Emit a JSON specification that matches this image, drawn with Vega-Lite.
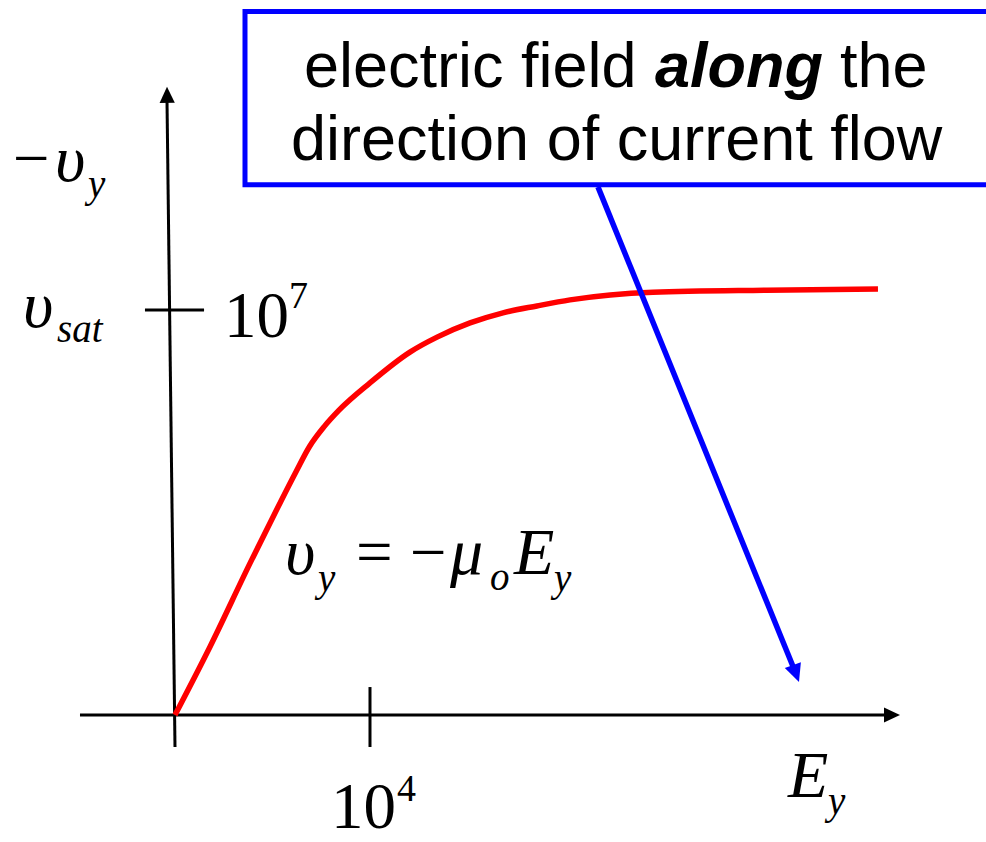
{
  "$schema": "https://vega.github.io/schema/vega-lite/v6.json",
  "width": 986,
  "height": 842,
  "autosize": {"type": "none"},
  "padding": 0,
  "background": "white",
  "config": {"view": {"stroke": null}},
  "datasets": {
    "curve": [
      {"E": 0, "v": 0},
      {"E": 0.179, "v": 0.168},
      {"E": 0.385, "v": 0.375},
      {"E": 0.538, "v": 0.523},
      {"E": 0.62, "v": 0.6},
      {"E": 0.69, "v": 0.663},
      {"E": 0.765, "v": 0.712},
      {"E": 0.84, "v": 0.752},
      {"E": 1.0, "v": 0.82},
      {"E": 1.205, "v": 0.896},
      {"E": 1.344, "v": 0.933},
      {"E": 1.513, "v": 0.968},
      {"E": 1.682, "v": 0.993},
      {"E": 1.856, "v": 1.01},
      {"E": 2.026, "v": 1.025},
      {"E": 2.451, "v": 1.044},
      {"E": 3.036, "v": 1.049},
      {"E": 3.605, "v": 1.052}
    ],
    "axisLines": [
      {"E": -0.4872, "v": 0, "E2": 3.6564, "v2": 0},
      {"E": 0, "v": -0.079, "E2": -0.041, "v2": 1.518}
    ],
    "ticks": [
      {"E": 1, "v": 0.069, "E2": 1, "v2": -0.079},
      {"E": -0.154, "v": 1, "E2": 0.149, "v2": 1}
    ],
    "box": [{"E": 0.359, "v": 1.737, "E2": 4.4, "v2": 1.309}],
    "pointer": [{"E": 2.169, "v": 1.304, "E2": 3.174, "v2": 0.114}],
    "mathItalic": [
      {"label": "υ", "E": -0.6154, "v": 1.3185},
      {"label": "υ", "E": -0.7795, "v": 0.958},
      {"label": "υ", "E": 0.5641, "v": 0.3481},
      {"label": "μ", "E": 1.4103, "v": 0.3481},
      {"label": "E", "E": 1.7385, "v": 0.3481},
      {"label": "E", "E": 3.1436, "v": -0.2025}
    ],
    "mathSub": [
      {"label": "y", "E": -0.4462, "v": 1.279},
      {"label": "sat", "E": -0.6051, "v": 0.921},
      {"label": "y", "E": 0.7333, "v": 0.3062},
      {"label": "o", "E": 1.6154, "v": 0.3086},
      {"label": "y", "E": 1.9436, "v": 0.3062},
      {"label": "y", "E": 3.3487, "v": -0.2444}
    ],
    "mathUpright": [
      {"label": "−", "E": -0.8308, "v": 1.321},
      {"label": "10", "E": 0.2513, "v": 0.9333},
      {"label": "10", "E": 0.8, "v": -0.279},
      {"label": "=", "E": 0.9282, "v": 0.3481},
      {"label": "−", "E": 1.2051, "v": 0.3481}
    ],
    "mathSup": [
      {"label": "7", "E": 0.5846, "v": 1.0049},
      {"label": "4", "E": 1.1385, "v": -0.2123}
    ],
    "boxText": [
      {"label": "electric field", "E": 0.6615, "v": 1.5506},
      {"label": "the", "E": 3.4103, "v": 1.5506},
      {"label": "direction of current flow", "E": 0.5949, "v": 1.3704}
    ],
    "boxEmphasis": [{"label": "along", "E": 2.4615, "v": 1.5506}],
    "hTip": [{"E": 3.7179, "v": 0}],
    "vTip": [{"E": -0.041, "v": 1.551}],
    "pointerTip": [{"E": 3.2, "v": 0.0815}]
  },
  "encoding": {
    "x": {"field": "E", "type": "quantitative", "scale": {"domain": [-0.8974, 4.159], "nice": false, "zero": false}, "axis": null},
    "y": {"field": "v", "type": "quantitative", "scale": {"domain": [-0.3136, 1.7654], "nice": false, "zero": false}, "axis": null}
  },
  "layer": [
    {
      "data": {"name": "axisLines"},
      "mark": {"type": "rule", "color": "black", "strokeWidth": 3},
      "encoding": {"x2": {"field": "E2"}, "y2": {"field": "v2"}}
    },
    {
      "data": {"name": "ticks"},
      "mark": {"type": "rule", "color": "black", "strokeWidth": 3},
      "encoding": {"x2": {"field": "E2"}, "y2": {"field": "v2"}}
    },
    {
      "data": {"name": "hTip"},
      "mark": {"type": "point", "shape": "M0,0L-0.95,2L0.95,2Z", "filled": true, "color": "black", "opacity": 1, "size": 256, "angle": 90}
    },
    {
      "data": {"name": "vTip"},
      "mark": {"type": "point", "shape": "M0,0L-0.95,2L0.95,2Z", "filled": true, "color": "black", "opacity": 1, "size": 256, "angle": 359.3}
    },
    {
      "data": {"name": "curve"},
      "mark": {"type": "line", "color": "#ff0000", "strokeWidth": 5.5, "interpolate": "monotone"},
      "encoding": {"order": {"field": "E", "type": "quantitative"}}
    },
    {
      "data": {"name": "box"},
      "mark": {"type": "rect", "fill": "white", "stroke": "#0000ff", "strokeWidth": 5, "clip": true},
      "encoding": {"x2": {"field": "E2"}, "y2": {"field": "v2"}}
    },
    {
      "data": {"name": "pointer"},
      "mark": {"type": "rule", "color": "#0000ff", "strokeWidth": 5.5},
      "encoding": {"x2": {"field": "E2"}, "y2": {"field": "v2"}}
    },
    {
      "data": {"name": "pointerTip"},
      "mark": {"type": "point", "shape": "M0,0L-0.95,2L0.95,2Z", "filled": true, "color": "#0000ff", "opacity": 1, "size": 324, "angle": 160}
    },
    {
      "data": {"name": "mathItalic"},
      "mark": {"type": "text", "font": "Liberation Serif", "fontStyle": "italic", "fontSize": 66, "align": "left", "baseline": "alphabetic", "color": "black"},
      "encoding": {"text": {"field": "label"}}
    },
    {
      "data": {"name": "mathSub"},
      "mark": {"type": "text", "font": "Liberation Serif", "fontStyle": "italic", "fontSize": 39, "align": "left", "baseline": "alphabetic", "color": "black"},
      "encoding": {"text": {"field": "label"}}
    },
    {
      "data": {"name": "mathUpright"},
      "mark": {"type": "text", "font": "Liberation Serif", "fontSize": 65, "align": "left", "baseline": "alphabetic", "color": "black"},
      "encoding": {"text": {"field": "label"}}
    },
    {
      "data": {"name": "mathSup"},
      "mark": {"type": "text", "font": "Liberation Serif", "fontSize": 38, "align": "left", "baseline": "alphabetic", "color": "black"},
      "encoding": {"text": {"field": "label"}}
    },
    {
      "data": {"name": "boxText"},
      "mark": {"type": "text", "font": "Liberation Sans", "fontSize": 63, "align": "left", "baseline": "alphabetic", "color": "black"},
      "encoding": {"text": {"field": "label"}}
    },
    {
      "data": {"name": "boxEmphasis"},
      "mark": {"type": "text", "font": "Liberation Sans", "fontSize": 63, "fontStyle": "italic", "fontWeight": "bold", "align": "left", "baseline": "alphabetic", "color": "black"},
      "encoding": {"text": {"field": "label"}}
    }
  ]
}
